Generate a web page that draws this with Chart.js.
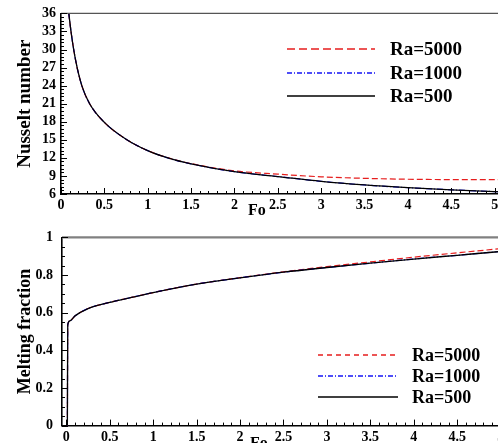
<!DOCTYPE html>
<html>
<head>
<meta charset="utf-8">
<script src="https://cdn.jsdelivr.net/npm/chart.js@4/dist/chart.umd.min.js"></script>
<style>
  html, body { margin: 0; padding: 0; background: #fff; overflow: hidden; width: 498px; height: 443px; }
  .box { position: absolute; left: 0; width: 530px; }
  #top { top: 0; height: 220px; }
  #bottom { top: 220px; height: 223px; }
</style>
</head>
<body>
<div class="box" id="top"><canvas id="nu" width="530" height="220"></canvas></div>
<div class="box" id="bottom"><canvas id="mf" width="530" height="223"></canvas></div>
<script>
// series labels
const seriesLabels = ['Ra=5000', 'Ra=1000', 'Ra=500'];

// Nusselt number vs Fo
const foNu = [0.09, 0.12, 0.17, 0.24, 0.33, 0.5, 0.75, 1.0, 1.25, 1.5, 2.0, 2.5, 3.0, 3.5, 4.0, 4.5, 5.0, 5.2];
const nu5000 = [36, 32.5, 28.1, 24.0, 21.0, 17.9, 15.1, 13.2, 11.95, 11.05, 9.85, 9.3, 8.85, 8.6, 8.45, 8.4, 8.4, 8.4];
const nu1000 = [36, 32.5, 28.1, 24.0, 21.0, 17.9, 15.1, 13.2, 11.9, 11.0, 9.7, 8.9, 8.1, 7.5, 7.05, 6.7, 6.4, 6.3];
const nu500  = [36, 32.5, 28.1, 24.0, 21.0, 17.9, 15.1, 13.2, 11.9, 11.0, 9.7, 8.9, 8.1, 7.5, 7.05, 6.7, 6.4, 6.3];

// melting fraction vs Fo
const foMf = [0.012, 0.016, 0.04, 0.1, 0.25, 0.5, 0.75, 1.0, 1.5, 2.0, 2.5, 3.0, 3.5, 4.0, 4.5, 5.0, 5.2];
const mf5000 = [0, 0.535, 0.556, 0.583, 0.622, 0.655, 0.681, 0.707, 0.752, 0.786, 0.817, 0.845, 0.87, 0.895, 0.918, 0.94, 0.948];
const mf1000 = [0, 0.535, 0.556, 0.583, 0.622, 0.655, 0.681, 0.707, 0.752, 0.785, 0.815, 0.84, 0.863, 0.885, 0.905, 0.925, 0.932];
const mf500  = [0, 0.535, 0.556, 0.583, 0.622, 0.655, 0.681, 0.707, 0.752, 0.785, 0.815, 0.84, 0.863, 0.885, 0.905, 0.925, 0.932];

// tick labels
const foTicks = [0, 0.5, 1, 1.5, 2, 2.5, 3, 3.5, 4, 4.5, 5];
const nuTicks = [6, 9, 12, 15, 18, 21, 24, 27, 30, 33, 36];
const mfTicks = [0, 0.2, 0.4, 0.6, 0.8, 1];

const SERIF = '"Liberation Serif", "Times New Roman", serif';
const styles = [
  { color: 'rgb(230,30,30)', dash: [6, 3] },
  { color: 'rgb(20,20,245)', dash: [6, 2, 1, 2] },
  { color: '#000000', dash: [] },
];

const toPoints = (xs, ys) => xs.map((x, i) => ({ x: x, y: ys[i] }));

// inward ticks, top frame line, legend and "Fo" label
const decor = {
  id: 'decor',
  afterDatasetsDraw(chart, args, o) {
    const { ctx, chartArea: a, scales: { x, y } } = chart;
    ctx.save();
    // top frame
    ctx.strokeStyle = o.topColor;
    ctx.lineWidth = o.topWidth;
    ctx.beginPath();
    ctx.moveTo(a.left, a.top);
    ctx.lineTo(a.right, a.top);
    ctx.stroke();

    ctx.strokeStyle = '#000';
    ctx.lineWidth = 1;
    ctx.beginPath();
    let n = Math.round((o.xEnd - o.xStart) / o.xMinor);
    for (let i = 0; i <= n; i++) {
      const v = o.xStart + i * o.xMinor;
      const major = Math.abs(v / o.xMajor - Math.round(v / o.xMajor)) < 1e-6;
      const px = Math.round(x.getPixelForValue(v)) + 0.5;
      ctx.moveTo(px, a.bottom);
      ctx.lineTo(px, a.bottom - (major ? 6 : 3));
    }
    n = Math.round((y.max - y.min) / o.yMinor);
    for (let i = 0; i <= n; i++) {
      const v = y.min + i * o.yMinor;
      const major = Math.abs((v - y.min) / o.yMajor - Math.round((v - y.min) / o.yMajor)) < 1e-6;
      const py = Math.round(y.getPixelForValue(v)) + 0.5;
      ctx.moveTo(a.left, py);
      ctx.lineTo(a.left + (major ? 6 : 3), py);
    }
    ctx.stroke();

    // legend
    const L = o.legend;
    ctx.font = 'bold ' + L.size + 'px ' + SERIF;
    ctx.textBaseline = 'middle';
    ctx.fillStyle = '#000';
    seriesLabels.forEach((label, i) => {
      const ly = Math.round(L.y + i * L.gap);
      ctx.strokeStyle = styles[i].color;
      ctx.setLineDash(L.dashes[i]);
      ctx.lineWidth = 1.4;
      ctx.beginPath();
      ctx.moveTo(L.x0, ly);
      ctx.lineTo(L.x1, ly);
      ctx.stroke();
      ctx.setLineDash([]);
      ctx.fillText(label, L.tx, ly + 1);
    });

    // Fo label
    ctx.font = 'bold 16px ' + SERIF;
    ctx.textBaseline = 'top';
    ctx.fillText('Fo', o.fo.x, o.fo.y);
    ctx.restore();
  }
};

function makeChart(id, cfg) {
  const datasets = cfg.series.map((data, i) => ({
    label: seriesLabels[i],
    data: toPoints(cfg.xs, data),
    borderColor: styles[i].color,
    borderDash: styles[i].dash,
    borderWidth: i === 2 ? 1.3 : 1.2,
    pointRadius: 0,
    cubicInterpolationMode: 'monotone',
    order: 2 - i,
  }));
  return new Chart(document.getElementById(id), {
    type: 'line',
    data: { datasets },
    options: {
      responsive: false,
      animation: false,
      events: [],
      layout: { padding: { top: cfg.padTop, right: cfg.padRight, left: 0, bottom: 0 } },
      plugins: {
        legend: { display: false },
        tooltip: { enabled: false },
        decor: cfg.decor,
      },
      scales: {
        x: {
          type: 'linear',
          min: cfg.xMin,
          max: 5.2,
          afterBuildTicks: s => { s.ticks = foTicks.map(v => ({ value: v })); },
          afterFit: s => { s.height = cfg.xHeight; },
          grid: { display: false, drawTicks: false },
          border: { display: true, color: '#000', width: 1.6 },
          ticks: {
            autoSkip: false, maxRotation: 0, padding: cfg.xPad, color: '#000',
            font: { family: SERIF, weight: 'bold', size: 14 },
            callback: v => String(v),
          },
        },
        y: {
          min: cfg.yTicks[0],
          max: cfg.yTicks[cfg.yTicks.length - 1],
          afterBuildTicks: s => { s.ticks = cfg.yTicks.map(v => ({ value: v })); },
          afterFit: s => { s.width = cfg.yWidth; },
          grid: { display: false, drawTicks: false },
          border: { display: true, color: '#000', width: 1.6 },
          title: {
            display: true, text: cfg.yTitle, color: '#000', padding: { top: cfg.titlePad, bottom: 0 },
            font: { family: SERIF, weight: 'bold', size: cfg.titleSize },
          },
          ticks: {
            autoSkip: false, padding: cfg.yPad, color: '#000',
            font: { family: SERIF, weight: 'bold', size: 14 },
            callback: v => String(v),
          },
        },
      },
    },
    plugins: [decor],
  });
}

makeChart('nu', {
  xs: foNu,
  series: [nu5000, nu1000, nu500],
  xMin: 0,
  yTicks: nuTicks,
  padTop: 12, padRight: 18, xHeight: 26, yWidth: 61, yPad: 5, xPad: 3,
  yTitle: 'Nusselt number', titleSize: 19, titlePad: 14,
  decor: {
    topColor: '#555', topWidth: 1.4,
    xStart: 0, xEnd: 5.2, xMinor: 0.1, xMajor: 0.5,
    yMinor: 0.6, yMajor: 3,
    legend: { x0: 287, x1: 375, tx: 390, y: 49, gap: 23.5, size: 19, dashes: [[8, 4], [5, 2, 1, 2], []] },
    fo: { x: 248, y: 203 },
  },
});

makeChart('mf', {
  xs: foMf,
  series: [mf5000, mf1000, mf500],
  xMin: -0.05,
  yTicks: mfTicks,
  padTop: 6, padRight: 12, xHeight: 16, yWidth: 62, yPad: 9, xPad: 3,
  yTitle: 'Melting fraction', titleSize: 18, titlePad: 15,
  decor: {
    topColor: '#808080', topWidth: 2.2,
    xStart: 0, xEnd: 5.2, xMinor: 0.1, xMajor: 0.5,
    yMinor: 0.05, yMajor: 0.2,
    legend: { x0: 318, x1: 398, tx: 412, y: 135, gap: 21, size: 18, dashes: [[5, 4], [5, 2, 1, 2], []] },
    fo: { x: 250, y: 216 },
  },
});
</script>
</body>
</html>
